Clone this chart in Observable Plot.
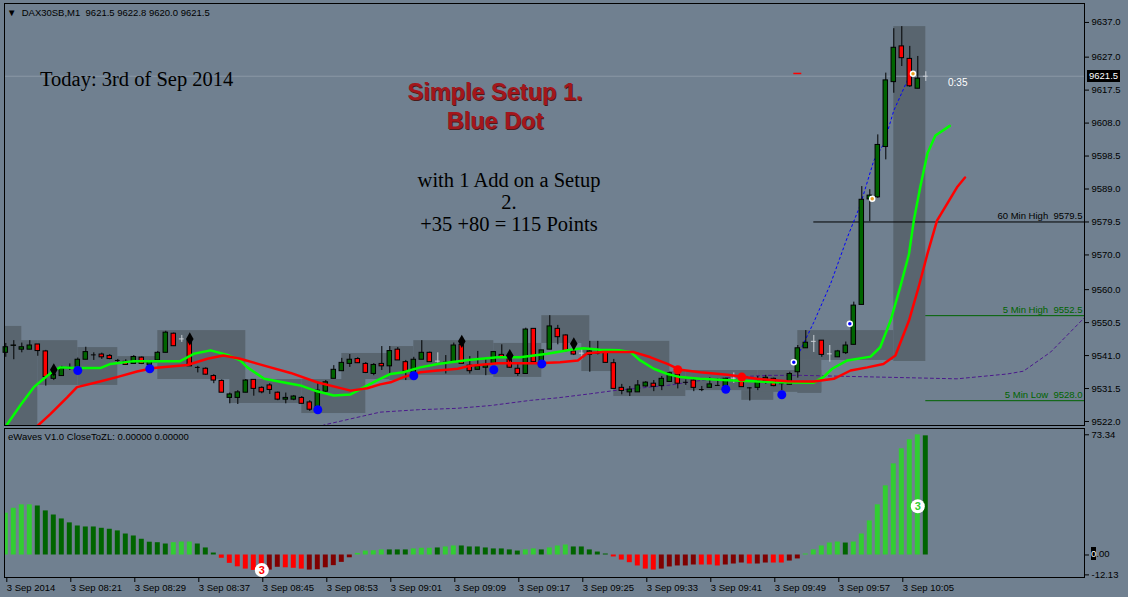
<!DOCTYPE html>
<html><head><meta charset="utf-8">
<script src="https://cdn.jsdelivr.net/npm/d3@7"></script>
<script src="https://cdn.jsdelivr.net/npm/@observablehq/plot@0.6"></script>
<style>
html,body{margin:0;padding:0;background:#708090;}
#wrap{position:relative;width:1128px;height:597px;overflow:hidden;background:#708090;font-family:"Liberation Sans",Arial,sans-serif;}
#main,#ind{position:absolute;left:0;}
#main{top:0;} #ind{top:425px;}
.ann{position:absolute;white-space:nowrap;line-height:1;}
.serif{font-family:"Liberation Serif","Times New Roman",serif;font-size:20.5px;color:#000;}
.setup{font-family:"Liberation Sans",Arial,sans-serif;font-weight:bold;font-size:23.5px;color:#a3161c;text-shadow:1px 1px 0 #4a1a1a;transform:translateX(-50%);}
.small{font-size:9.5px;color:#000;}
</style></head>
<body><div id="wrap">
<div id="main"></div>
<div id="ind"></div>
</div>
<script>
// ---------- data ----------
const timeTickBars = [0,8,16,24,32,40,48,56,64,72,80,88,96,104,112];
const timeLabels = ["3 Sep 2014","3 Sep 08:21","3 Sep 08:29","3 Sep 08:37","3 Sep 08:45","3 Sep 08:53","3 Sep 09:01","3 Sep 09:09","3 Sep 09:17","3 Sep 09:25","3 Sep 09:33","3 Sep 09:41","3 Sep 09:49","3 Sep 09:57","3 Sep 10:05"];
const priceTicks = [9637.0,9627.0,9617.5,9608.0,9598.5,9589.0,9579.5,9570.0,9560.0,9550.5,9541.0,9531.5,9522.0];
const indTicks = [73.34, 0, -12.13];
const indCurrent = 0.00;

const open = [9541.8,9543.8,9542.7,9542.7,9544.2,9542.2,9534.3,9535.1,9537.6,9537.4,9539.8,9541.2,9541.3,9540.9,9539.6,9539.2,9538.6,9540.4,9538.3,9539.6,9541.8,9547.3,9545.8,9545.3,9537.6,9537.2,9535.1,9533.7,9528.8,9528.8,9530.3,9534.0,9531.7,9532.4,9530.3,9528.3,9528.3,9528.8,9527.5,9525.4,9530.6,9534.3,9536.5,9538.6,9540.0,9538.6,9535.7,9538.6,9537.9,9542.7,9539.1,9535.9,9539.8,9541.8,9539.4,9539.1,9539.1,9544.1,9538.1,9536.9,9537.5,9538.6,9541.2,9540.1,9537.2,9535.7,9548.7,9537.6,9542.7,9548.7,9546.8,9542.2,9541.7,9541.2,9541.7,9542.0,9538.8,9531.7,9530.4,9530.4,9532.1,9532.9,9532.2,9533.4,9535.5,9533.3,9533.8,9531.2,9531.7,9532.4,9532.2,9534.5,9534.3,9531.7,9531.7,9533.6,9534.3,9532.9,9532.6,9536.2,9543.1,9545.1,9545.3,9541.5,9540.5,9541.7,9544.1,9555.6,9586.0,9586.6,9601.1,9619.8,9630.1,9626.5,9617.9,9621.5];
const high = [9544.5,9545.3,9544.6,9545.3,9544.2,9542.5,9536.5,9537.9,9538.6,9540.3,9543.4,9541.8,9541.7,9541.3,9539.9,9539.8,9541.0,9540.6,9539.6,9542.2,9548.0,9547.5,9546.8,9545.8,9537.9,9537.5,9535.5,9534.0,9530.2,9530.9,9534.1,9534.0,9532.0,9532.9,9530.5,9530.2,9529.5,9529.2,9528.0,9533.3,9533.8,9538.1,9540.2,9541.3,9540.4,9539.0,9538.7,9543.6,9543.6,9543.3,9539.6,9540.5,9545.3,9542.0,9541.8,9541.0,9544.6,9544.2,9540.7,9542.2,9539.8,9542.2,9544.1,9540.4,9538.8,9548.9,9548.8,9542.5,9552.5,9549.7,9547.0,9542.5,9542.7,9545.1,9545.1,9542.2,9539.9,9532.7,9532.1,9533.8,9533.5,9533.8,9535.0,9536.2,9536.7,9534.0,9534.1,9532.1,9534.6,9534.3,9534.5,9536.0,9534.5,9531.7,9535.0,9535.3,9534.5,9533.0,9536.2,9543.9,9548.2,9546.8,9545.3,9543.9,9542.5,9544.9,9556.4,9589.7,9588.8,9604.6,9622.4,9635.2,9635.8,9630.1,9627.2,9622.8];
const low = [9540.5,9539.8,9541.8,9542.7,9540.8,9532.2,9533.8,9535.1,9536.7,9537.4,9539.8,9539.6,9539.9,9539.8,9538.6,9538.3,9538.6,9538.4,9538.3,9539.6,9541.8,9543.6,9544.8,9537.9,9536.0,9535.3,9532.9,9530.3,9527.1,9526.9,9530.3,9529.3,9530.0,9529.8,9528.0,9527.1,9528.0,9527.0,9524.9,9525.0,9530.4,9534.3,9536.5,9537.6,9538.7,9535.8,9535.2,9536.7,9535.7,9539.6,9533.8,9535.9,9539.8,9539.0,9538.8,9535.7,9538.8,9538.6,9535.7,9536.9,9535.2,9538.6,9540.4,9537.3,9535.0,9535.7,9539.1,9537.6,9542.7,9544.1,9542.0,9541.0,9539.8,9536.2,9541.2,9538.8,9531.4,9529.7,9529.2,9530.4,9531.9,9530.6,9530.9,9533.4,9531.4,9532.4,9530.6,9530.6,9531.7,9532.1,9532.2,9533.0,9531.9,9527.9,9530.9,9532.7,9532.0,9530.9,9532.6,9534.5,9543.1,9541.9,9540.5,9539.1,9540.5,9541.3,9544.1,9555.6,9579.6,9586.3,9597.4,9616.6,9624.3,9618.3,9617.9,9620.0];
const close = [9543.4,9543.9,9543.4,9543.9,9542.3,9534.8,9535.5,9537.2,9537.6,9539.8,9542.0,9541.2,9540.5,9540.0,9539.6,9538.3,9540.6,9538.6,9539.4,9541.8,9547.6,9543.7,9545.8,9537.9,9537.6,9535.5,9533.8,9530.3,9529.8,9530.4,9533.8,9531.4,9530.4,9531.1,9528.3,9528.8,9529.2,9527.1,9525.4,9530.9,9533.3,9536.9,9538.9,9539.8,9538.8,9536.0,9538.3,9537.9,9542.3,9539.6,9536.4,9539.8,9541.8,9539.1,9539.4,9539.1,9543.9,9538.6,9536.5,9537.9,9538.3,9542.0,9540.4,9537.5,9535.7,9548.5,9539.1,9542.5,9549.4,9546.3,9542.3,9541.3,9541.7,9542.2,9541.7,9538.9,9531.4,9530.8,9531.2,9532.4,9533.2,9532.0,9534.3,9535.9,9532.9,9533.3,9531.7,9531.2,9532.7,9532.4,9534.3,9534.5,9531.9,9531.7,9533.5,9534.6,9532.2,9532.9,9535.7,9543.1,9544.7,9545.1,9541.2,9541.5,9542.2,9543.9,9555.4,9585.9,9587.1,9601.7,9620.3,9629.7,9626.7,9618.6,9620.8,9621.5];
const greyDojiBars = [22,54,72,91,101,103,115];

// moving averages (bar index, price), drawn shifted forward as on the chart
const greenMA = [[-0.2,9519.8],[0.2,9521.3],[1.8,9526.6],[3.5,9531.9],[4.75,9534.3],[6,9536.7],[6.8,9537.6],[8.9,9537.4],[11.8,9537.4],[13.1,9538.6],[16,9539.4],[21.8,9539.4],[23.5,9541.5],[25.6,9542.5],[27.7,9541.2],[29.3,9539.6],[30.2,9537.6],[32.3,9534.3],[36.8,9532.4],[38.9,9530.7],[41,9529.5],[43.1,9529.8],[45.2,9532.4],[46.8,9534.3],[48.1,9535.7],[49.7,9536.2],[51.8,9537.6],[54,9538.6],[55.6,9539.1],[58.1,9539.8],[61.5,9540.5],[64.3,9540.5],[67.7,9541.5],[70.6,9542.7],[72.2,9543.1],[74.3,9542.7],[76.8,9542.5],[78.1,9542.0],[79.3,9539.6],[81,9537.2],[82.7,9535.7],[84.3,9534.8],[86.8,9534.3],[91,9533.8],[96,9533.3],[101,9533.2],[102.2,9534.8],[103.3,9537.2],[105.2,9539.6],[108.1,9540.7],[109.3,9543.4],[110.6,9551.1],[111.8,9560.7],[112.9,9570.3],[113.5,9579.9],[114.3,9589.5],[115.2,9599.2],[116.2,9604.4],[118,9607.2]];
const redMA = [[3.5,9519.8],[3.9,9520.6],[5.6,9524.2],[7.7,9529.0],[8.9,9531.9],[11.4,9533.3],[13.9,9534.8],[16.4,9536.4],[18.5,9537.4],[22.7,9538.3],[25.2,9540.1],[27.2,9541.0],[29.3,9540.1],[32.3,9538.1],[35.6,9536.0],[38.9,9533.3],[43.1,9530.9],[45.2,9531.6],[46.8,9532.7],[48.1,9533.3],[49.7,9534.8],[51.8,9536.2],[54,9536.7],[56.5,9537.2],[58.1,9538.1],[61.5,9538.8],[66.5,9538.8],[69.3,9539.1],[71.5,9539.6],[72.7,9541.7],[74.7,9542.0],[78.5,9542.0],[80.6,9540.5],[82.7,9538.6],[84.3,9536.9],[86.8,9536.2],[90.2,9535.5],[93.9,9534.3],[97.7,9533.6],[101,9533.5],[103.5,9534.3],[105.6,9536.7],[107.7,9537.6],[109.7,9538.6],[111.2,9541.0],[112.9,9551.1],[114.1,9560.7],[115.2,9570.3],[116.4,9579.9],[118.9,9589.5],[119.9,9592.3]];
const purpleLine = [[39.0,9519.5],[39.75,9521.0],[46.8,9524.7],[51.6,9525.4],[56.4,9525.8],[60.6,9526.6],[65.6,9528.1],[68.9,9528.8],[73.1,9530.0],[76,9530.9],[82.7,9532.4],[86.8,9533.8],[91,9534.8],[95.2,9535.3],[99.3,9535.3],[109.3,9534.8],[118.9,9534.3],[125.2,9535.7],[127.2,9536.5],[130.6,9542.0],[134.9,9552.1]];
const blueTrend = [[99,9541.0],[101,9550.6],[103.1,9561.7],[105.2,9575.1],[106.8,9584.3],[108.5,9597.2],[109.75,9602.0],[111,9611.6],[112.7,9620.3]];

// range boxes
const boxStart = [-1,-1,4,9,14,19,28,37,42,48,51,61,67,72,76,85,92,94,99,99,111];
const boxEnd   = [2,4,9,14,19,30,37,45,48,51,61,67,73,83,85,94,96,102,111,102,115];
const boxLow   = [9515,9515,9532.4,9532.4,9538.7,9534.1,9527.2,9524.3,9534.1,9533.8,9535.3,9534.7,9544.5,9536.4,9529.2,9530.9,9528.1,9530.4,9539.6,9530.1,9539.3];
const boxHigh  = [9549.4,9545.3,9545.3,9543.3,9540.7,9548.2,9534.1,9534.1,9541.6,9543.6,9545.3,9544.5,9552.5,9545.1,9536.4,9536.7,9530.9,9536.7,9548.2,9539.6,9635.8];

const blueDotBars = [9,18,39,51,61,67,90,97];
const blueDotPrices = [9536.7,9537.2,9525.4,9535.2,9536.9,9538.6,9531.3,9529.7];
const redDotBars = [84,92];
const redDotPrices = [9536.9,9534.8];
const diamondBars = [6,23,57,63,71];
const diamondPrices = [9536.9,9545.8,9545.1,9541.0,9544.4];
const entryBars = [98.5,105.5];
const entryPrices = [9539.1,9550.2];
const exitBars = [108.3,113.4];
const exitPrices = [9586.2,9622.2];

const levelNames = ["60 Min High","5 Min High","5 Min Low"];
const levelPrices = [9579.5,9552.5,9528.0];
const levelFrom = [101,115,115];
const levelColors = ["#000000","#006400","#006400"];
const bidPrice = 9621.5;

// eWaves histogram
const histValues = [25.5,28.5,30.6,30.6,29.9,26.9,24.4,22.0,19.6,17.7,17.1,17.1,16.3,15.7,14.7,12.8,11.6,9.6,7.8,7.5,6.7,7.5,7.9,7.9,6.7,4.3,1.2,-2.0,-5.1,-7.2,-8.6,-9.4,-9.6,-9.2,-7.5,-7.8,-8.1,-8.6,-9.2,-9.0,-7.8,-6.5,-4.5,-1.7,1.0,2.4,2.6,3.1,3.1,3.1,3.1,3.7,4.1,4.1,4.3,4.9,5.5,5.5,4.9,4.9,4.3,3.7,3.7,3.1,2.4,3.1,3.7,3.1,4.3,5.5,6.1,4.9,4.9,3.1,1.8,0.6,-1.2,-3.1,-4.7,-6.7,-8.6,-9.2,-8.6,-7.3,-6.7,-6.7,-6.1,-6.1,-6.1,-6.7,-6.1,-5.5,-4.9,-5.5,-5.5,-4.9,-4.9,-4.9,-3.7,-2.4,0.6,3.1,5.5,7.3,7.9,7.3,7.9,12.8,20.8,30.6,42.2,55.6,64.8,70.3,73.3,72.7];
// L = rising up, D = falling up, R = falling down, M = rising down
const histKinds = "LLLLDDDDDDDDDDDDDDDDDLLLDDDRRRRRRMMRRRMMMMMMLLLLDDDLLLDLLDDDDDDDDLLDLLLDDDDDRRRRRRMMMMMRRRMMMRMMRRMMLLLLLDLLLLLLLLLD";
const circleBars = [32,114];
const circleValues = [-9.2,29.7];
const circleColors = ["#ff0000","#32cd32"];

// ---------- build ----------
const BOX = "#59656f";
const kindColor = {L:"#32cd32", D:"#006400", R:"#ff0000", M:"#800000"};
const xDomain = [-0.1625, 134.8375];
const bars = open.map((o,i)=>({i, o, h:high[i], l:low[i], c:close[i], grey: greyDojiBars.includes(i)}));
const boxes = boxStart.map((s,i)=>({x1:s, x2:boxEnd[i], y1:boxLow[i], y2:boxHigh[i]}));
const pts = (xs,ys)=>xs.map((x,i)=>({x, y:ys[i]}));
const levels = levelNames.map((n,i)=>({n, p:levelPrices[i], from:levelFrom[i], col:levelColors[i]}));
const hist = histValues.map((v,i)=>({i, v, col: kindColor[histKinds[i]]}));
const font = {background:"transparent", fontFamily:"Liberation Sans, Arial, sans-serif", fontSize:"9.5px", color:"#000", overflow:"visible"};

const main = Plot.plot({
  width:1128, height:428, marginTop:3, marginBottom:3, marginLeft:4, marginRight:44,
  x:{domain:xDomain, axis:null},
  y:{domain:[9520.85, 9642.46]},
  color:{type:"identity"},
  style:font,
  marks:[
    Plot.rect(boxes, {x1:"x1", x2:"x2", y1:"y1", y2:"y2", fill:BOX, clip:true}),
    Plot.ruleY([bidPrice], {stroke:"#8b97a6", strokeWidth:1}),
    Plot.ruleY(levels, {y:"p", x1:"from", x2:xDomain[1], stroke:"col", strokeWidth:1}),
    Plot.text(levels, {y:"p", x:xDomain[1], text:d=>d.n+"  "+d.p.toFixed(1), textAnchor:"end", dx:-2, dy:-6, fill:"col", fontSize:9.5}),
    Plot.line(purpleLine, {x:d=>d[0], y:d=>d[1], stroke:"#4b1a8c", strokeWidth:1, strokeDasharray:"3,3", clip:true}),
    Plot.line(blueTrend, {x:d=>d[0], y:d=>d[1], stroke:"#0000ff", strokeWidth:1, strokeDasharray:"2,3", clip:true}),
    Plot.ruleX(bars, {x:"i", y1:"l", y2:"h", stroke:d=>d.grey?"#c8cdd3":"#000"}),
    Plot.rect(bars.filter(d=>d.o!==d.c), {x1:d=>d.i-0.28, x2:d=>d.i+0.28, y1:d=>Math.min(d.o,d.c), y2:d=>Math.max(d.o,d.c), fill:d=>d.c>d.o?"#006400":"#ff0000", stroke:"#000", strokeWidth:1}),
    Plot.ruleY(bars.filter(d=>d.o===d.c), {y:"o", x1:d=>d.i-0.3, x2:d=>d.i+0.3, stroke:d=>d.grey?"#c8cdd3":"#000"}),
    Plot.line(greenMA, {x:d=>d[0], y:d=>d[1], stroke:"#00ff00", strokeWidth:2.5, clip:true}),
    Plot.line(redMA, {x:d=>d[0], y:d=>d[1], stroke:"#ff0000", strokeWidth:2.5, clip:true}),
    Plot.dot(pts(blueDotBars, blueDotPrices), {x:"x", y:"y", r:4.5, fill:"#0000ff"}),
    Plot.dot(pts(redDotBars, redDotPrices), {x:"x", y:"y", r:4.5, fill:"#ff0000"}),
    Plot.dot(pts(diamondBars, diamondPrices), {x:"x", y:"y", r:4, symbol:"diamond", fill:"#000"}),
    Plot.dot(pts(entryBars, entryPrices), {x:"x", y:"y", r:2.5, fill:"#0000ff", stroke:"#fff", strokeWidth:1.5}),
    Plot.dot(pts(exitBars, exitPrices), {x:"x", y:"y", r:2.5, fill:"#e8a020", stroke:"#fff", strokeWidth:1.5}),
    Plot.ruleY([bidPrice+0.8], {x1:98.5, x2:99.5, stroke:"#ff0000", strokeWidth:1.5}),
    Plot.frame({stroke:"#000"}),
    Plot.axisY({anchor:"right", ticks:priceTicks, tickFormat:d=>d.toFixed(1), tickSize:4, tickPadding:3, label:null, fontSize:9.5})
  ]
});
document.getElementById("main").append(main);

const ind = Plot.plot({
  width:1128, height:172, marginTop:3, marginBottom:20, marginLeft:4, marginRight:44,
  x:{domain:xDomain},
  y:{domain:[-13.73, 77.18]},
  color:{type:"identity"},
  style:font,
  marks:[
    Plot.rect(hist, {x1:d=>d.i-0.31, x2:d=>d.i+0.31, y1:()=>0, y2:"v", fill:"col", clip:true}),
    Plot.dot(pts(circleBars, circleValues), {x:"x", y:"y", r:7, fill:"#fff"}),
    Plot.text(circleBars.map((b,i)=>({x:b, y:circleValues[i], c:circleColors[i]})), {x:"x", y:"y", text:()=>"3", fill:"c", fontSize:11, fontWeight:"bold"}),
    Plot.frame({stroke:"#000"}),
    Plot.axisY({anchor:"right", ticks:indTicks, tickFormat:d=>d===indCurrent?"":d.toFixed(2), tickSize:4, tickPadding:3, label:null, fontSize:9.5}),
    Plot.axisX({ticks:timeTickBars, tickFormat:(d,i)=>timeLabels[i], tickSize:5, tickPadding:2, textAnchor:"start", dx:1, label:null, fontSize:9.5})
  ]
});
document.getElementById("ind").append(ind);

// ---------- annotations ----------
const wrap = document.getElementById("wrap");
function ann(html, cls, left, top, extra){
  const d = document.createElement("div");
  d.className = "ann " + cls; d.innerHTML = html;
  d.style.left = left+"px"; d.style.top = top+"px";
  if (extra) Object.assign(d.style, extra);
  wrap.append(d);
}
ann("&#9660;&nbsp; DAX30SB,M1&nbsp; 9621.5 9622.8 9620.0 9621.5", "small", 7, 8, {fontSize:"9.5px"});
ann("eWaves V1.0 CloseToZL: 0.00000 0.00000", "small", 8, 432);
ann("Today: 3rd of Sep 2014", "serif", 40, 69);
ann("Simple Setup 1.", "setup", 495, 81);
ann("Blue Dot", "setup", 495, 110);
ann("with 1 Add on a Setup", "serif", 509, 170, {transform:"translateX(-50%)"});
ann("2.", "serif", 509, 192, {transform:"translateX(-50%)"});
ann("+35 +80 = 115 Points", "serif", 509, 214, {transform:"translateX(-50%)"});
ann("0:35", "small", 948, 78, {color:"#fff", fontSize:"10px"});
ann("9621.5", "small", 1087, 70, {background:"#000", color:"#fff", padding:"1px 2px", fontSize:"9.5px"});
ann("<span style='background:#000;color:#fff;padding:1px 0'>" + indCurrent.toFixed(2).slice(0,1) + "</span>" + indCurrent.toFixed(2).slice(1), "small", 1091, 549);
</script>
</body></html>
